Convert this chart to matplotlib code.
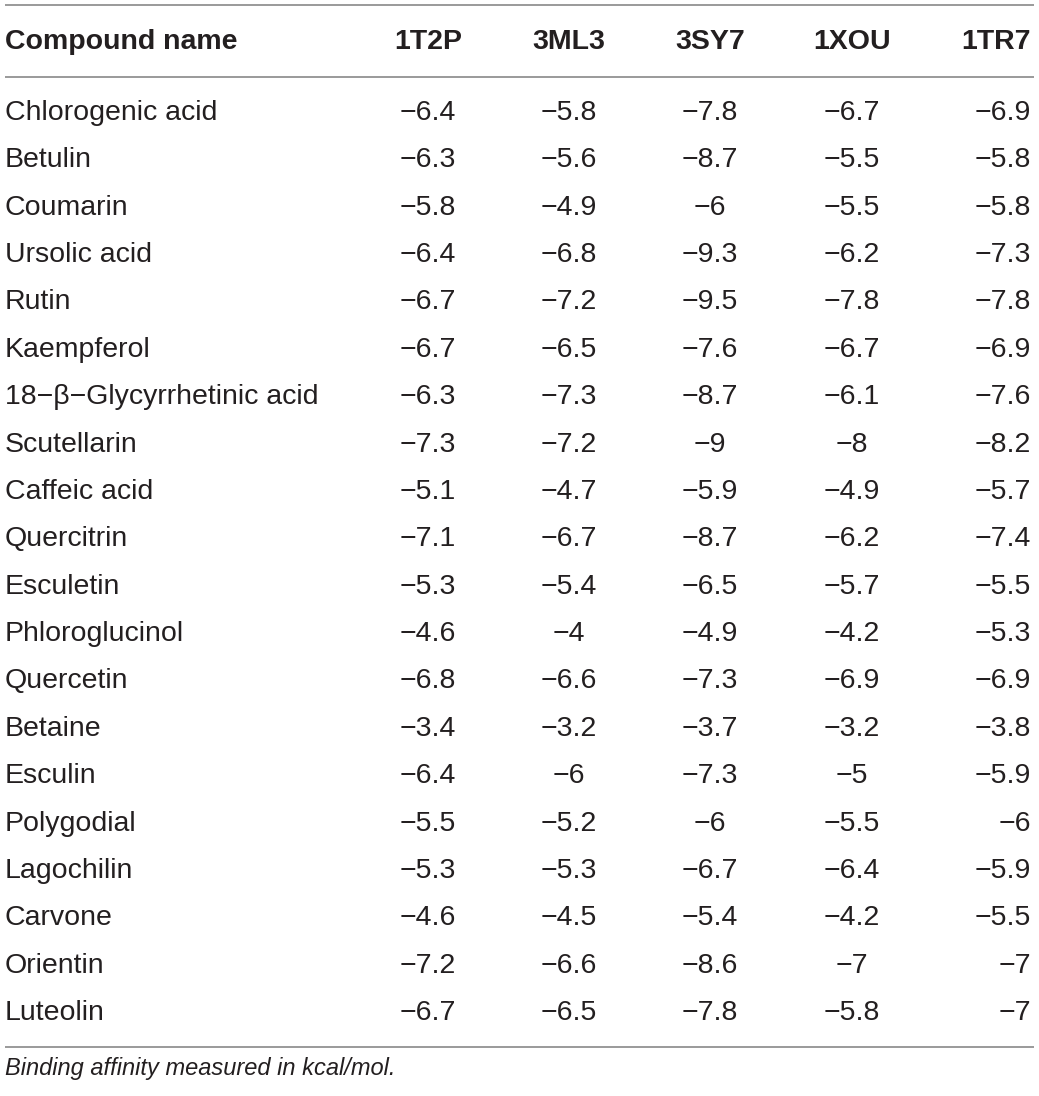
import matplotlib
matplotlib.use("Agg")
import matplotlib.pyplot as plt

compounds = ["Chlorogenic acid", "Betulin", "Coumarin", "Ursolic acid", "Rutin",
             "Kaempferol", "18\u2212\u03b2\u2212Glycyrrhetinic acid", "Scutellarin",
             "Caffeic acid", "Quercitrin", "Esculetin", "Phloroglucinol", "Quercetin",
             "Betaine", "Esculin", "Polygodial", "Lagochilin", "Carvone", "Orientin",
             "Luteolin"]
targets = ["1T2P", "3ML3", "3SY7", "1XOU", "1TR7"]
v_1T2P = [-6.4, -6.3, -5.8, -6.4, -6.7, -6.7, -6.3, -7.3, -5.1, -7.1, -5.3, -4.6, -6.8, -3.4, -6.4, -5.5, -5.3, -4.6, -7.2, -6.7]
v_3ML3 = [-5.8, -5.6, -4.9, -6.8, -7.2, -6.5, -7.3, -7.2, -4.7, -6.7, -5.4, -4.0, -6.6, -3.2, -6.0, -5.2, -5.3, -4.5, -6.6, -6.5]
v_3SY7 = [-7.8, -8.7, -6.0, -9.3, -9.5, -7.6, -8.7, -9.0, -5.9, -8.7, -6.5, -4.9, -7.3, -3.7, -7.3, -6.0, -6.7, -5.4, -8.6, -7.8]
v_1XOU = [-6.7, -5.5, -5.5, -6.2, -7.8, -6.7, -6.1, -8.0, -4.9, -6.2, -5.7, -4.2, -6.9, -3.2, -5.0, -5.5, -6.4, -4.2, -7.0, -5.8]
v_1TR7 = [-6.9, -5.8, -5.8, -7.3, -7.8, -6.9, -7.6, -8.2, -5.7, -7.4, -5.5, -5.3, -6.9, -3.8, -5.9, -6.0, -5.9, -5.5, -7.0, -7.0]
footnote = "Binding affinity measured in kcal/mol."

values = [v_1T2P, v_3ML3, v_3SY7, v_1XOU, v_1TR7]

def fmt(v):
    s = ("%.1f" % abs(v))
    if s.endswith(".0"):
        s = s[:-2]
    return ("\u2212" + s) if v < 0 else s

W, H = 1039, 1096
fig = plt.figure(figsize=(W / 100, H / 100), dpi=100)
ax = fig.add_axes([0, 0, 1, 1])
ax.set_xlim(0, W)
ax.set_ylim(H, 0)
ax.axis("off")

family = ["Liberation Sans", "DejaVu Sans"]
tc = "#231f20"
fs = 20.5
line_c = "#9a9a9a"

for y in (5, 77, 1047):
    ax.plot([5, 1034], [y, y], color=line_c, lw=1.4, solid_capstyle="butt")

col_x = [428, 569, 710, 852, 1031]
col_ha = ["center", "center", "center", "center", "right"]

hy = 42
ax.text(5, hy, "Compound name", ha="left", va="center", fontsize=fs,
        fontweight="bold", color=tc, family=family)
for t, x, ha in zip(targets, col_x, col_ha):
    ax.text(x, hy, t, ha=ha, va="center", fontsize=fs, fontweight="bold",
            color=tc, family=family)

y0, dy = 113, 47.37
for i, name in enumerate(compounds):
    y = y0 + i * dy
    ax.text(5, y, name, ha="left", va="center", fontsize=fs, color=tc, family=family)
    for vals, x, ha in zip(values, col_x, col_ha):
        ax.text(x, y, fmt(vals[i]), ha=ha, va="center", fontsize=fs, color=tc,
                family=family)

ax.text(5, 1069, footnote, ha="left", va="center", fontsize=17, style="italic",
        color=tc, family=family)

fig.savefig("out.png", dpi=100, facecolor="white")
